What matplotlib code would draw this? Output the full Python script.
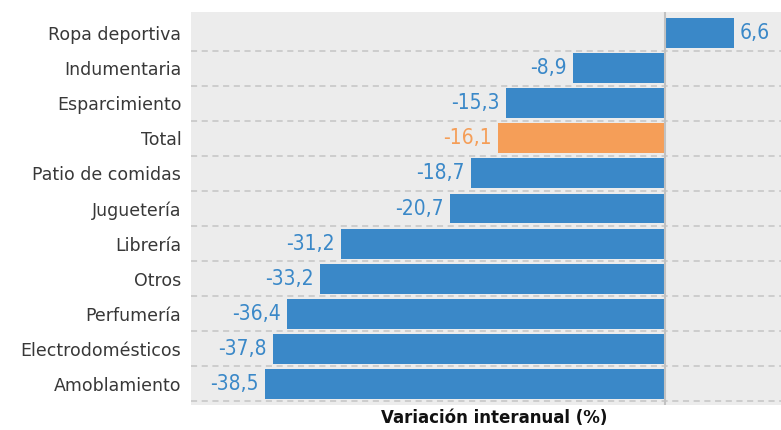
import matplotlib
matplotlib.use("Agg")
import matplotlib.pyplot as plt

# Rubros y variación interanual (%)
rubros = ["Ropa deportiva", "Indumentaria", "Esparcimiento", "Total",
          "Patio de comidas", "Juguetería", "Librería", "Otros",
          "Perfumería", "Electrodomésticos", "Amoblamiento"]
variacion = [6.6, -8.9, -15.3, -16.1, -18.7, -20.7, -31.2, -33.2, -36.4, -37.8, -38.5]

AZUL = "#3a88c8"
NARANJA = "#f59e58"
colores = [NARANJA if r == "Total" else AZUL for r in rubros]

fig = plt.figure(figsize=(7.81, 4.30), dpi=100)
ax = fig.add_axes([191 / 781, 1 - 405 / 430, 590 / 781, 393 / 430])
ax.set_facecolor("#ececec")

pos = list(range(len(rubros)))
ax.barh(pos, variacion, height=0.85, color=colores, zorder=2)

# separadores punteados entre filas
for p in pos:
    ax.axhline(p + 0.5, color="#c4c4c4", lw=1.1, ls=(0, (4, 3)), zorder=1)
ax.axvline(0, color="#c2c2c2", lw=1.5, zorder=3)

for p, v, c in zip(pos, variacion, colores):
    txt = f"{v:.1f}".replace(".", ",")
    if v < 0:
        ax.text(v - 0.6, p, txt, ha="right", va="center", color=c,
                fontsize=15, family="DejaVu Sans", fontstretch="condensed",
                zorder=4)
    else:
        ax.text(v + 0.6, p, txt, ha="left", va="center", color=c,
                fontsize=15, family="DejaVu Sans", fontstretch="condensed",
                zorder=4)

ax.set_xlim(-45.65, 11.14)
ax.set_ylim(10.6, -0.6)
ax.set_yticks(pos)
ax.set_yticklabels(rubros, fontsize=12.5, color="#383838")
ax.tick_params(axis="y", length=0, pad=7)
ax.set_xticks([])
for s in ax.spines.values():
    s.set_visible(False)

fig.text(0.633, 0.008, "Variación interanual (%)", ha="center", va="bottom",
         fontsize=12, fontweight="bold", color="#111111")

fig.savefig("out.png", dpi=100)
